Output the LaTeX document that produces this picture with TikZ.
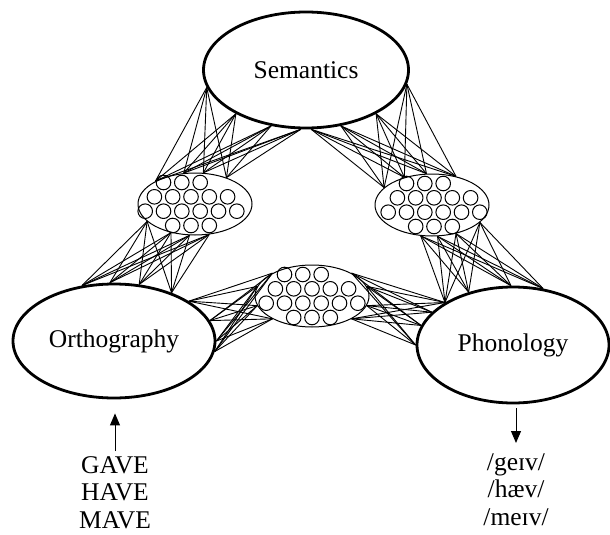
\documentclass[tikz,border=0pt]{standalone}
\usepackage{fontspec}
\setmainfont{Liberation Serif}
\usetikzlibrary{shapes.geometric,arrows.meta}
\begin{document}
\begin{tikzpicture}[x=1pt,y=-1pt,>={Triangle[length=12pt,width=10pt]},line join=round,
    layer/.style={draw,ellipse,line width=2.8pt,inner sep=0pt,font=\fontsize{25.5}{28}\selectfont},
    hidden/.style={draw,ellipse,line width=1pt,inner sep=0pt,minimum width=114pt,minimum height=62pt},
    unit/.style={line width=1pt},
    link/.style={line width=0.9pt},
    words/.style={inner sep=0pt,align=center,font=\fontsize{25.5}{27.5}\selectfont}]
\useasboundingbox (0,0) rectangle (610,535);
\node[layer,minimum width=205pt,minimum height=116pt] (sem) at (306,70) {Semantics};
\node[layer,minimum width=202pt,minimum height=114pt] (orth) at (114,341) {Orthography};
\node[layer,minimum width=192pt,minimum height=116pt] (phon) at (513,345) {Phonology};
\node[hidden] (hidL) at (195,204) {};
\node[hidden] (hidR) at (432,205) {};
\node[hidden] (hidB) at (312,296) {};
\foreach \h/\s in {hidL/-4,hidR/2,hidB/0}
  \foreach \dx/\dy in {-27.5/-21.5,-9.2/-21.5,9.2/-21.5,
      -36.6/-7.2,-18.3/-7.2,0/-7.2,18.3/-7.2,36.6/-7.2,
      -45.8/7.2,-27.5/7.2,-9.2/7.2,9.2/7.2,27.5/7.2,45.8/7.2,
      -18.3/21.5,0/21.5,18.3/21.5}
    \draw[unit] ([xshift=\s pt]\h.center) ++(\dx,\dy) circle (7.3pt);
\foreach \a in {190,212,238,265} \foreach \b in {40,75,110,150}
  \draw[link] (sem.\a) -- (hidL.\b);
\foreach \a in {200,230,260,295} \foreach \b in {120,94,66,40}
  \draw[link] (hidL.\a) -- (orth.\b);
\foreach \a in {28,12,0,354} \foreach \b in {150,170,190,210}
  \draw[link] (orth.\a) -- (hidB.\b);
\foreach \a in {330,350,10,30} \foreach \b in {180,168,158,148}
  \draw[link] (hidB.\a) -- (phon.\b);
\foreach \a in {148,130,92,62} \foreach \b in {250,280,310,340}
  \draw[link] (phon.\a) -- (hidR.\b);
\foreach \a in {160,135,100,50} \foreach \b in {275,302,328,352}
  \draw[link] (hidR.\a) -- (sem.\b);
\node[words,anchor=north] (orthIn) at (115,456) {GAVE\\HAVE\\MAVE};
\node[words,anchor=north] (phonIn) at (516,453) {/geɪv/\\/hæv/\\/meɪv/};
\draw[->,line width=1pt,shorten <=5pt,shorten >=14pt] (orthIn.north) -- (orthIn.north |- orth.south);
\draw[->,line width=1pt,shorten <=4pt,shorten >=10pt] (phonIn.north |- phon.south) -- (phonIn.north);
\end{tikzpicture}
\end{document}
